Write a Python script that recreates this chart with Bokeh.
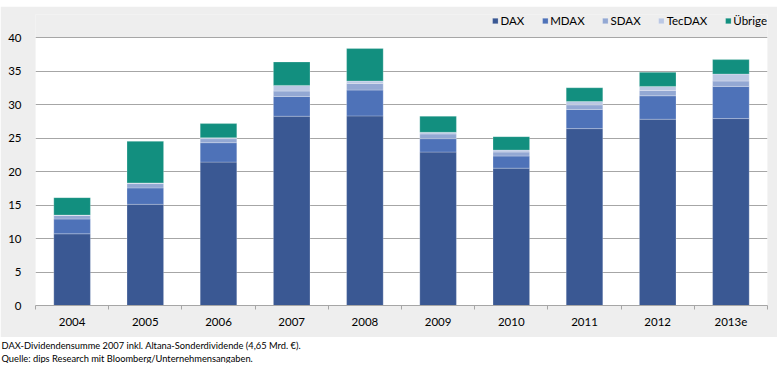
from bokeh.plotting import figure
from bokeh.models import (Range1d, LinearAxis, FixedTicker, Legend, LegendItem, Title,
                          ColumnDataSource, Grid, BoxAnnotation)
from bokeh.layouts import column
from bokeh.embed import file_html
from bokeh.resources import INLINE

years = ["2004", "2005", "2006", "2007", "2008", "2009", "2010", "2011", "2012", "2013e"]
dax = [10.7, 15.1, 21.4, 28.25, 28.3, 22.9, 20.5, 26.4, 27.8, 27.9]
mdax = [2.2, 2.45, 2.9, 2.95, 3.85, 2.0, 1.8, 2.85, 3.5, 4.8]
sdax = [0.55, 0.65, 0.6, 0.8, 1.0, 0.7, 0.6, 0.7, 0.8, 0.8]
tecdax = [0.05, 0.1, 0.15, 0.85, 0.35, 0.25, 0.3, 0.5, 0.6, 1.05]
uebrige = [2.6, 6.2, 2.1, 3.5, 4.85, 2.4, 2.0, 2.05, 2.1, 2.15]
series = ["DAX", "MDAX", "SDAX", "TecDAX", "Übrige"]
colors = ["#3A5893", "#4E72B8", "#93A8D3", "#BBC8E4", "#128F7F"]
y_ticks = [0, 5, 10, 15, 20, 25, 30, 35, 40]
note1 = "DAX-Dividendensumme 2007 inkl. Altana-Sonderdividende (4,65 Mrd. €)."
note2 = "Quelle: dips Research mit Bloomberg/Unternehmensangaben."

FONT = "Lato"
GREY = "#EEEEEE"
xpos = [i + 0.5 for i in range(len(years))]
source = ColumnDataSource(dict(x=xpos, year=years, DAX=dax, MDAX=mdax, SDAX=sdax,
                               TecDAX=tecdax, **{"Übrige": uebrige}))

y_max = max(y_ticks)
# frame extends a bit above the top gridline so the legend sits inside it (grey area)
p = figure(x_range=Range1d(0, len(years)), y_range=Range1d(0, y_max * 291 / 268),
           width=777, height=331, output_backend="svg", toolbar_location=None,
           x_axis_location=None, y_axis_location=None,
           min_border_left=35, min_border_right=10, min_border_top=8, min_border_bottom=32,
           background_fill_color=GREY, border_fill_color=GREY, outline_line_color=None)
for g in list(p.xgrid) + list(p.ygrid):
    g.visible = False

p.add_layout(BoxAnnotation(bottom=0, top=y_max, fill_color="white", fill_alpha=1,
                           line_color=None, level="underlay"))
ticker = FixedTicker(ticks=y_ticks)
p.add_layout(Grid(dimension=1, ticker=ticker, grid_line_color="#A6A6A6", grid_line_width=1))

renderers = p.vbar_stack(series, x="x", width=0.5, source=source, color=colors,
                         line_color="white", line_width=0.4, line_alpha=0.6)

yaxis = LinearAxis(ticker=ticker, axis_line_color=None, major_tick_line_color=None,
                   minor_tick_line_color=None, major_label_standoff=8,
                   major_label_text_font=FONT, major_label_text_font_size="11.5px",
                   major_label_text_color="#000000")
p.add_layout(yaxis, "left")

# labels at category centres, small tick marks (minor ticks) at category boundaries
xaxis = LinearAxis(ticker=FixedTicker(ticks=xpos, minor_ticks=list(range(len(years) + 1))),
                   major_label_overrides={x: y for x, y in zip(xpos, years)},
                   axis_line_color="#A6A6A6", major_tick_line_color=None,
                   minor_tick_line_color="#A6A6A6", minor_tick_out=4, minor_tick_in=0,
                   major_label_standoff=6,
                   major_label_text_font=FONT, major_label_text_font_size="11.5px",
                   major_label_text_color="#000000")
p.add_layout(xaxis, "below")

legend = Legend(items=[LegendItem(label=s, renderers=[r]) for s, r in zip(series, renderers)],
                orientation="horizontal", location="top_right", glyph_width=7, glyph_height=7,
                label_standoff=2, spacing=17, padding=0, margin=0, label_height=12,
                label_text_font=FONT, label_text_font_size="11.5px", label_text_color="#000000",
                border_line_color=None, background_fill_alpha=0)
p.add_layout(legend, "center")

n = figure(width=777, height=26, x_range=Range1d(0, 1), y_range=Range1d(0, 1),
           output_backend="svg", toolbar_location=None, x_axis_location=None,
           y_axis_location=None, min_border=0, background_fill_color="white",
           border_fill_color="white", outline_line_color=None)
for g in list(n.xgrid) + list(n.ygrid):
    g.visible = False
n.add_layout(Title(text=note2, align="left", offset=-34, standoff=0,
                   text_font=FONT, text_font_size="9.3px", text_font_style="normal",
                   text_color="#000000"), "above")
n.add_layout(Title(text=note1, align="left", offset=-34, standoff=0,
                   text_font=FONT, text_font_size="9.3px", text_font_style="normal",
                   text_color="#000000"), "above")

layout = column(p, n, margin=(6, 0, 0, 0), spacing=0)
open("out.html", "w").write(file_html(layout, INLINE))
